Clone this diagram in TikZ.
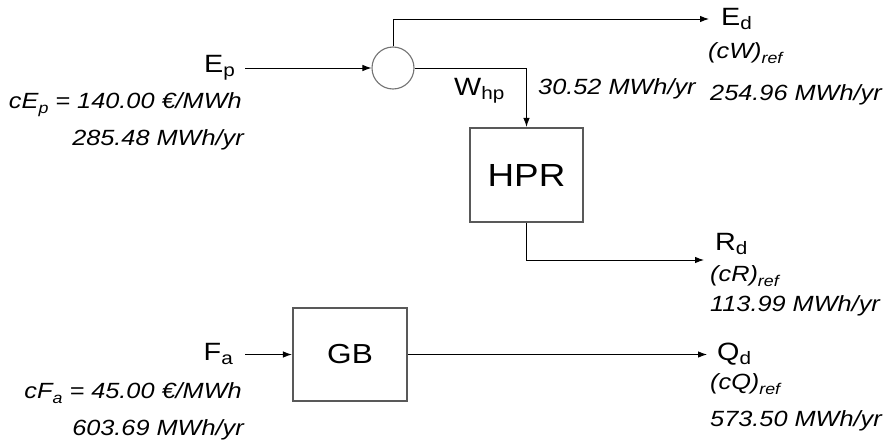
\documentclass[tikz,border=0pt]{standalone}
\usepackage{fontspec}
\setmainfont{Liberation Sans}[FakeStretch=1.15]
\usetikzlibrary{arrows.meta}
\newcommand\lsub[1]{\raisebox{-4pt}{\fontsize{18}{18}\selectfont #1}}
\newcommand\isub[1]{\raisebox{-5.5pt}{\fontsize{15.5}{16}\selectfont #1}}
\begin{document}
\begin{tikzpicture}[x=1pt,y=-1pt,
  lbl/.style={inner sep=0pt,font=\fontsize{25}{27}\selectfont},
  val/.style={inner sep=0pt,font=\fontsize{22}{24}\selectfont\itshape},
  unit/.style={draw=black!65, line width=2.2pt, fill=white, inner sep=0pt},
  junc/.style={circle, draw=black!55, line width=1.1pt, minimum size=42pt, inner sep=0pt},
  arr/.style={-{Latex[length=9pt,width=6.5pt]}, line width=0.9pt}]
\useasboundingbox (0,0) rectangle (884,447);

% units
\node[junc] (mix) at (393,68) {};
\node[unit, minimum width=113pt, minimum height=94pt, font=\fontsize{32}{34}\selectfont] (hpr) at (526.5,175) {HPR};
\node[unit, minimum width=114pt, minimum height=93pt, font=\fontsize{27.5}{29}\selectfont] (gb) at (350,354.5) {GB};

% left labels
\node[lbl, anchor=base east] (Ep) at (235,72) {E\lsub{p}};
\node[val, anchor=base east] (cEp) at (242,108) {cE\isub{p} = 140.00 €/MWh};
\node[val, anchor=base east] (mEp) at (244,145) {285.48 MWh/yr};

\node[lbl, anchor=base east] (Fa) at (233,360) {F\lsub{a}};
\node[val, anchor=base east] (cFa) at (242,398) {cF\isub{a} = 45.00 €/MWh};
\node[val, anchor=base east] (mFa) at (244,435) {603.69 MWh/yr};

% middle labels
\node[lbl, anchor=base west] (Whp) at (454,95) {W\lsub{hp}};
\node[val, anchor=base west] (mW) at (538,94) {30.52 MWh/yr};

% right labels
\node[lbl, anchor=base west] (Ed) at (721,25) {E\lsub{d}};
\node[val, anchor=base west] (cW) at (708,58) {(cW)\isub{ref}};
\node[val, anchor=base west] (mEd) at (710,100) {254.96 MWh/yr};

\node[lbl, anchor=base west] (Rd) at (715,250) {R\lsub{d}};
\node[val, anchor=base west] (cR) at (710,281) {(cR)\isub{ref}};
\node[val, anchor=base west] (mRd) at (710,311) {113.99 MWh/yr};

\node[lbl, anchor=base west] (Qd) at (717,360) {Q\lsub{d}};
\node[val, anchor=base west] (cQ) at (710,389) {(cQ)\isub{ref}};
\node[val, anchor=base west] (mQd) at (710,426) {573.50 MWh/yr};

% arrow ends
\coordinate (EdIn) at (709,19);
\coordinate (RdIn) at (704,260);
\coordinate (QdIn) at (707,354.5);

% connectors
\draw[arr, shorten <=10pt] (mix.west -| Ep.east) -- (mix.west);
\draw[arr] (mix.north) |- (EdIn);
\draw[arr] (mix.east) -| (hpr.north);
\draw[arr] (hpr.south) |- (RdIn);
\draw[arr, shorten <=12pt] (gb.west -| Fa.east) -- (gb.west);
\draw[arr] (gb.east) -- (QdIn);
\end{tikzpicture}
\end{document}
